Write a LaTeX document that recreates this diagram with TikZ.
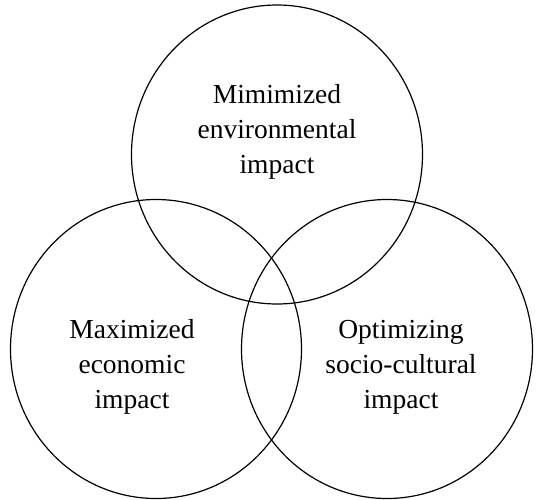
\documentclass[tikz,border=0pt]{standalone}
\usepackage{fontspec}
\setmainfont{Liberation Serif}
\usetikzlibrary{shapes.geometric}
\begin{document}
\begin{tikzpicture}[x=1pt,y=-1pt,
  ring/.style={draw=black,line width=1.2pt,ellipse,inner sep=0pt,minimum width=291pt,minimum height=299pt},
  label/.style={align=center,font=\fontsize{27.5}{35}\selectfont,inner sep=0pt,anchor=base}]
\useasboundingbox (0,0) rectangle (539,499);
\node[ring] (top) at (277,154.5) {};
\node[ring] (left) at (156,349) {};
\node[ring] (right) at (387,349) {};
\node[label] (ttop) at (277,173) {Mimimized\\environmental\\impact};
\node[label] (tleft) at (132,408) {Maximized\\economic\\impact};
\node[label] (tright) at (401,408) {Optimizing\\socio-cultural\\impact};
\end{tikzpicture}
\end{document}
